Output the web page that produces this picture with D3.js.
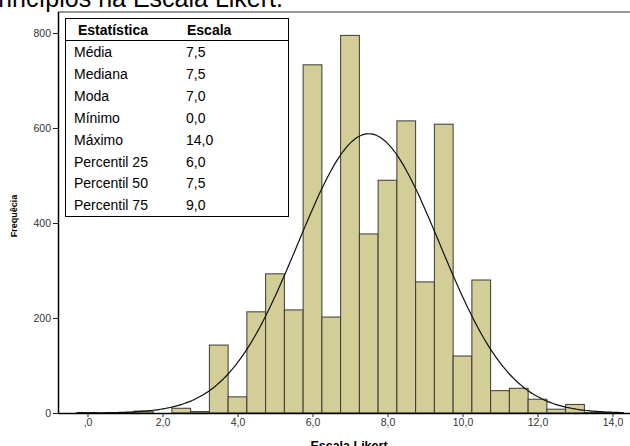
<!DOCTYPE html>
<html lang="pt">
<head>
<meta charset="UTF-8">
<title>Escala Likert</title>
<style>
  body { margin: 0; background: #fff; }
  svg { display: block; font-family: "Liberation Sans", Arial, sans-serif; }
</style>
</head>
<body>
<script src="https://cdn.jsdelivr.net/npm/d3@7/dist/d3.min.js"></script>
<script>
// bins of width 0,5 centred on these values
var binCenters = [0, 0.5, 1, 1.5, 2, 2.5, 3, 3.5, 4, 4.5, 5, 5.5, 6, 6.5, 7, 7.5,
                  8, 8.5, 9, 9.5, 10, 10.5, 11, 11.5, 12, 12.5, 13, 13.5, 14];
var counts = [1, 0, 1, 4, 0, 10, 3, 143, 34, 213, 293, 217, 733, 202, 795, 377,
              490, 615, 276, 608, 120, 280, 47, 52, 29, 8, 18, 1, 1];
var xTickValues = [0, 2, 4, 6, 8, 10, 12, 14];
var xTickLabels = [",0", "2,0", "4,0", "6,0", "8,0", "10,0", "12,0", "14,0"];
var yTickValues = [0, 200, 400, 600, 800];
var statLabels = ["Média", "Mediana", "Moda", "Mínimo", "Máximo", "Percentil 25", "Percentil 50", "Percentil 75"];
var statValues = ["7,5", "7,5", "7,0", "0,0", "14,0", "6,0", "7,5", "9,0"];
var normalMean = 7.5, normalSd = 1.89, binWidth = 0.5;

var W = 630, H = 446;
var svg = d3.select("body").append("svg").attr("width", W).attr("height", H);

var x = d3.scaleLinear().domain([0, 14]).range([87.5, 612.5]);
var y = d3.scaleLinear().domain([0, 800]).range([413, 33]);

// caption of the document, cut off by the top edge
svg.append("text")
    .attr("x", 283).attr("y", 7)
    .attr("text-anchor", "end")
    .style("font-size", "25px")
    .text("princípios na Escala Likert.");

// frame
svg.append("line").attr("x1", 58).attr("x2", W).attr("y1", 12).attr("y2", 12)
    .style("stroke", "#999").style("stroke-width", 2);

// bars
svg.selectAll("rect.bar")
    .data(counts)
    .enter().append("rect")
    .attr("class", "bar")
    .attr("x", function (d, i) { return x(binCenters[i] - binWidth / 2); })
    .attr("width", function (d, i) { return x(binCenters[i] + binWidth / 2) - x(binCenters[i] - binWidth / 2); })
    .attr("y", function (d) { return y(d); })
    .attr("height", function (d) { return y(0) - y(d); })
    .style("fill", "#d3ce97")
    .style("stroke", "#3a3a30")
    .style("stroke-width", 1);

// normal curve
var total = d3.sum(counts);
var curveX = d3.range(-0.3, 14.31, 0.05);
var line = d3.line()
    .x(function (d) { return x(d); })
    .y(function (d) {
        var z = (d - normalMean) / normalSd;
        return y(total * binWidth * Math.exp(-0.5 * z * z) / (normalSd * Math.sqrt(2 * Math.PI)));
    })
    .curve(d3.curveBasis);
svg.append("path").datum(curveX).attr("d", line)
    .style("fill", "none").style("stroke", "#111").style("stroke-width", 1.2);

// axes
var xAxis = d3.axisBottom(x).tickValues(xTickValues)
    .tickFormat(function (d, i) { return xTickLabels[i]; })
    .tickSizeInner(4).tickSizeOuter(0).tickPadding(2);
var gx = svg.append("g").attr("transform", "translate(0,413)").call(xAxis);
gx.select(".domain").remove();
svg.append("line").attr("x1", 58).attr("x2", W).attr("y1", 413.5).attr("y2", 413.5)
    .style("stroke", "#000").style("stroke-width", 1.5);

var yAxis = d3.axisLeft(y).tickValues(yTickValues).tickFormat(d3.format("d"))
    .tickSizeInner(5).tickSizeOuter(0).tickPadding(2);
var gy = svg.append("g").attr("transform", "translate(58,0)").call(yAxis);
gy.select(".domain").remove();
svg.append("line").attr("x1", 58.5).attr("x2", 58.5).attr("y1", 12).attr("y2", 414)
    .style("stroke", "#000").style("stroke-width", 1.5);

svg.selectAll(".tick text").style("font-size", "10.5px").style("fill", "#333")
    .style("font-family", "'Liberation Sans', Arial, sans-serif");
svg.selectAll(".tick line").style("stroke", "#222");

// axis titles
svg.append("text")
    .attr("transform", "translate(17,216) rotate(-90)")
    .attr("text-anchor", "middle")
    .style("font-size", "9px").style("font-weight", "bold")
    .text("Frequêcia");
svg.append("text")
    .attr("x", 349).attr("y", 450)
    .attr("text-anchor", "middle")
    .style("font-size", "12.5px").style("font-weight", "bold")
    .text("Escala Likert");

// statistics table
var table = svg.append("g");
table.append("rect").attr("x", 65.5).attr("y", 18.5).attr("width", 223).attr("height", 198)
    .style("fill", "#fff").style("stroke", "#000").style("stroke-width", 1);
table.append("line").attr("x1", 65.5).attr("x2", 288.5).attr("y1", 40.5).attr("y2", 40.5)
    .style("stroke", "#000").style("stroke-width", 1);
table.append("text").attr("x", 78).attr("y", 35)
    .style("font-size", "14px").style("font-weight", "bold").text("Estatística");
table.append("text").attr("x", 187).attr("y", 35)
    .style("font-size", "14px").style("font-weight", "bold").text("Escala");
var rows = table.selectAll("g.row").data(statLabels).enter().append("g")
    .attr("transform", function (d, i) { return "translate(0," + (57 + i * 21.9) + ")"; });
rows.append("text").attr("x", 74).style("font-size", "14px").text(function (d) { return d; });
rows.append("text").attr("x", 186).style("font-size", "14px").text(function (d, i) { return statValues[i]; });
</script>
</body>
</html>
